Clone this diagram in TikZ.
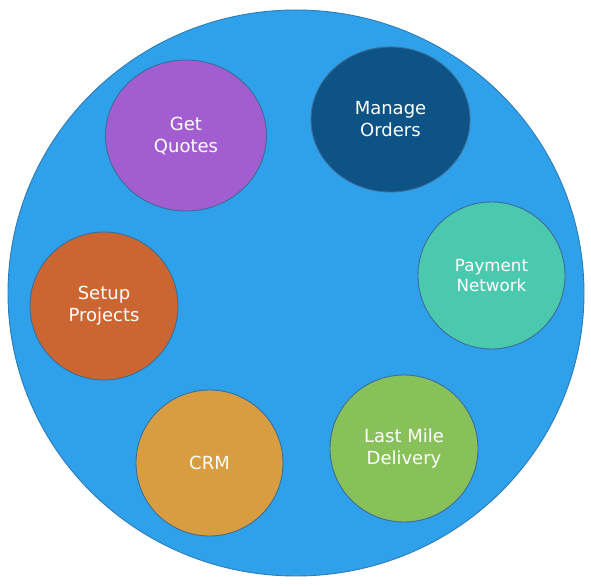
\documentclass[tikz,border=0pt]{standalone}
\usepackage{fontspec}
\setmainfont{DejaVu Sans}
\usetikzlibrary{shapes.geometric}
\definecolor{hubblue}{HTML}{2FA0EA}
\definecolor{hubline}{HTML}{2B7CBA}
\definecolor{rimline}{HTML}{3A6E98}
\definecolor{quotes}{HTML}{A25ED0}
\definecolor{orders}{HTML}{0E5385}
\definecolor{payment}{HTML}{4BC9AE}
\definecolor{setup}{HTML}{CB6633}
\definecolor{crm}{HTML}{D99D41}
\definecolor{delivery}{HTML}{88C15A}
\tikzset{
  app/.style={ellipse, draw=rimline, line width=0.9pt, inner sep=0pt,
    text=white, align=center, font=\fontsize{18}{22}\selectfont},
}
\begin{document}
\begin{tikzpicture}[x=1pt,y=1pt]
      \useasboundingbox (0,0) rectangle (591,584);
      \node[ellipse, draw=hubline, fill=hubblue, line width=0.9pt,
        minimum width=576pt, minimum height=566pt] (hub) at (296,291) {};
      \draw
        (186,448.5) node[app, fill=quotes, minimum width=161pt, minimum height=151pt] (quotes) {Get\\Quotes}
        (390.5,464.5) node[app, fill=orders, minimum width=159pt, minimum height=145pt] (orders) {Manage\\Orders}
        (491.5,308.5) node[app, fill=payment, minimum width=147pt, minimum height=147pt,
          font=\fontsize{16.7}{19.5}\selectfont] (payment) {Payment\\Network}
        (404,135.5) node[app, fill=delivery, minimum width=148pt, minimum height=147pt] (delivery) {Last Mile\\Delivery}
        (209.5,121) node[app, fill=crm, minimum width=147pt, minimum height=146pt] (crm) {CRM}
        (104,278) node[app, fill=setup, minimum width=148pt, minimum height=148pt] (setup) {Setup\\Projects};
    \end{tikzpicture}
\end{document}
